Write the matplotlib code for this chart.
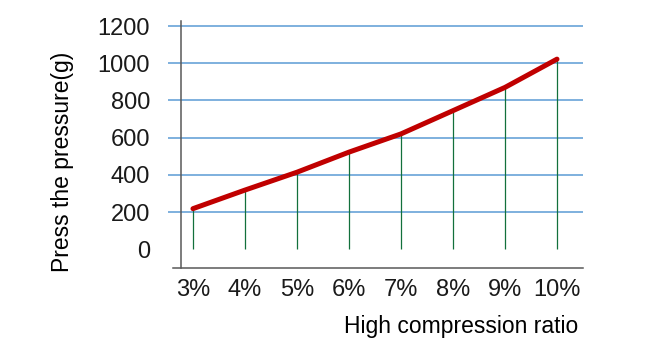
import matplotlib
matplotlib.use("Agg")
import matplotlib.pyplot as plt

# compression ratio vs press pressure
ratios = ["3%", "4%", "5%", "6%", "7%", "8%", "9%", "10%"]
pressure = [218, 318, 414, 522, 620, 745, 870, 1022]
yticks = [0, 200, 400, 600, 800, 1000, 1200]

plt.rcParams['font.family'] = ['Liberation Sans', 'DejaVu Sans']

fig = plt.figure(figsize=(6.57, 3.64), dpi=100)
W, H = 657, 364
ax = fig.add_axes([168 / W, 1 - 268 / H, (583 - 168) / W, (268 - 21) / H])

xs = list(range(len(ratios)))
xmin, xmax = -0.48, 7.5
ymin, ymax = -101, 1227
ax.set_xlim(xmin, xmax)
ax.set_ylim(ymin, ymax)

# horizontal grid (no line at 0)
for v in yticks[1:]:
    ax.axhline(v, color='#5B9BD5', lw=1.1, zorder=1)

# drop lines
ax.vlines(xs, 0, pressure, color='#12703C', lw=0.9, zorder=2)

# main curve
ax.plot(xs, pressure, color='#C00000', lw=3.6, solid_capstyle='round', zorder=3)

# axis lines
for s in ax.spines.values():
    s.set_visible(False)
ax.axvline(-0.23, color='#595959', lw=1.1, clip_on=False, zorder=4)
ax.axhline(ymin, xmin=(173 - 168) / 415, xmax=1, color='#595959', lw=1.1,
           clip_on=False, zorder=4)

ax.set_xticks(xs)
ax.set_xticklabels(ratios, fontsize=17, color='#1a1a1a')
ax.set_yticks(yticks)
ax.set_yticklabels([str(v) for v in yticks], fontsize=17, color='#1a1a1a')
ax.tick_params(axis='x', length=0, pad=8)
ax.tick_params(axis='y', length=0, pad=13)

fig.text(578 / W, 1 - 326 / H, "High compression ratio", ha='right',
         va='center', fontsize=16.5, color='#000000')
fig.text(62 / W, 1 - 161.5 / H, "Press the pressure(g)", rotation=90,
         ha='center', va='center', fontsize=16.5, color='#000000')

fig.savefig("out.png", dpi=100)
